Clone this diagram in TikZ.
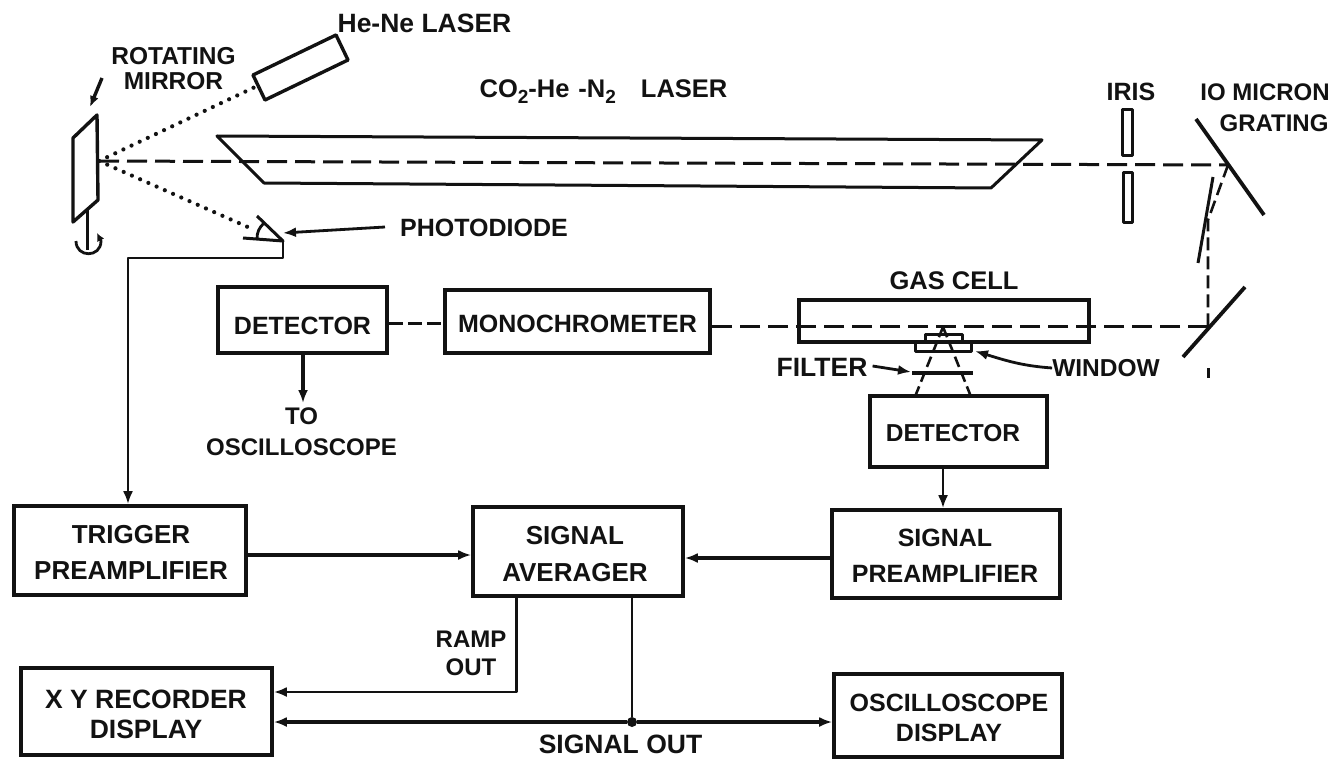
\documentclass[tikz,border=0pt]{standalone}
\usepackage{fontspec}
\setmainfont{Liberation Sans}
\usetikzlibrary{arrows.meta,calc}
\definecolor{ink}{gray}{0.07}
\tikzset{
 txt/.style 2 args={font=\fontsize{#1}{#2}\selectfont\bfseries,align=center,inner sep=0pt,text=ink},
 box/.style={draw=ink,line width=3.6pt,inner sep=0pt},
 part/.style={draw=ink,line width=3.4pt,line join=round},
 wire/.style={draw=ink,line width=2.8pt,line join=round},
 arr/.style={wire,-{Latex[length=13pt,width=10pt]}},
 thickarr/.style={arr,line width=3.2pt},
 beam/.style={draw=ink,line width=3pt,dash pattern=on 20pt off 8pt},
 thinbeam/.style={draw=ink,line width=2.6pt,dash pattern=on 13pt off 6pt},
 dots/.style={draw=ink,line width=4.2pt,line cap=round,dash pattern=on 0pt off 9pt},
}
\begin{document}
\begin{tikzpicture}[x=1pt,y=-1pt]
\useasboundingbox[fill=white] (0,0) rectangle (1337,759);
% named points
\coordinate (mc) at (99,161);
\coordinate (g1) at (1228,165);
\coordinate (g2) at (1208,326);
\coordinate (pd) at (283,241);
% boxes
\node[box,minimum width=169pt,minimum height=66pt] (det1) at (302.5,320) {};
\node[box,minimum width=265pt,minimum height=63pt] (mono) at (577.5,321.5) {};
\node[box,minimum width=290pt,minimum height=42pt] (cell) at (944,321) {};
\node[box,minimum width=177pt,minimum height=71pt] (det2) at (958.5,431.5) {};
\node[box,minimum width=232pt,minimum height=89pt] (trig) at (130,550.5) {};
\node[box,minimum width=210pt,minimum height=89pt] (avg) at (578,551.5) {};
\node[box,minimum width=228pt,minimum height=88pt] (spre) at (946,554) {};
\node[box,minimum width=251pt,minimum height=87pt] (xy) at (146.5,711.5) {};
\node[box,minimum width=228pt,minimum height=83pt] (osc) at (948,715.5) {};
% box texts
\node[txt={25}{30}] (det1t) at (302.5,326) {DETECTOR};
\node[txt={25}{30}] (monot) at (577.5,323.5) {MONOCHROMETER};
\node[txt={24.5}{30}] (det2t) at (953,433) {DETECTOR};
\node[txt={26}{36}] (trigt) at (131,552) {TRIGGER\\PREAMPLIFIER};
\node[txt={26}{37}] (avgt) at (575,554.5) {SIGNAL\\AVERAGER};
\node[txt={25}{36}] (spret) at (945,556) {SIGNAL\\PREAMPLIFIER};
\node[txt={26.5}{30}] (xyt) at (146,714) {X Y RECORDER\\DISPLAY};
\node[txt={25}{30}] (osct) at (949,718) {OSCILLOSCOPE\\DISPLAY};
% labels
\node[txt={26.5}{30}] (lhene) at (424.5,23) {He-Ne LASER};
\node[txt={24.5}{25}] (lrot) at (173.5,68.5) {ROTATING\\MIRROR};
\node[txt={25.5}{30}] (lco) at (603.5,92) {CO\raisebox{-6pt}{\fontsize{19}{19}\selectfont 2}-He\hspace{9pt}-N\raisebox{-6pt}{\fontsize{19}{19}\selectfont 2}\hspace{25pt}LASER};
\node[txt={25}{30}] (liris) at (1131,92) {IRIS};
\node[txt={24}{31}] (lgrat) at (1265,108) {IO MICRON\\\hspace*{18pt}GRATING};
\node[txt={25}{30}] (lpd) at (484,228) {PHOTODIODE};
\node[txt={25.5}{30}] (lgas) at (954,281) {GAS CELL};
\node[txt={26.5}{30}] (lfil) at (822,367) {FILTER};
\node[txt={24.5}{30}] (lwin) at (1106,368) {WINDOW};
\node[txt={24}{31}] (ltoo) at (301.5,432) {TO\\OSCILLOSCOPE};
\node[txt={24}{28}] (lramp) at (471,653) {RAMP\\OUT};
\node[txt={26.5}{30}] (lsig) at (620.5,744) {SIGNAL OUT};
% rotating mirror
\draw[part] (97,115) -- (73,138) -- (73,222) -- (98,200) -- cycle;
\draw[part,line width=3pt] (87,208) -- (87,250);
\draw[wire,-{Latex[length=8pt,width=8pt]}] (76,241) .. controls (76,258) and (101,258) .. (101,241) -- (97,233);
\draw[draw=ink,line width=3.4pt,-{Latex[length=11pt,width=9pt]}] (102,78) -- (90,107);
% He-Ne laser
\draw[part] (253,75) -- (336,35) -- (348,60) -- (265,100) -- cycle;
\coordinate (hn) at (255,87);
\draw[dots] (mc) -- (hn);
% photodiode
\coordinate (pdt) at (250,228);
\draw[dots] (mc) -- (pdt);
\draw[wire,line width=3pt] (257,216) -- (pd) -- (243,238);
\draw[wire] (257,239) .. controls (257,232) and (259,228) .. (264,223);
% laser tube
\draw[part,line width=3pt] (217,136) -- (1042,140) -- (991,188) -- (264,183) -- cycle;
% main beam
\draw[beam] (mc) -- (g1);
% iris
\draw[part,line width=3pt] (1122,110) rectangle (1132,156);
\draw[part,line width=3pt] (1123,173) rectangle (1132,223);
% grating & mirrors
\draw[part,line width=3.8pt] (1196,119) -- (1264,215);
\draw[wire,line width=3pt] (1213,177) -- (1198,263);
\draw[thinbeam] (g1) -- (1208,220) -- (g2);
\draw[part,line width=3.8pt] (1183,357) -- (1245,287);
\draw[wire,line width=3pt] (1208,368) -- (1208,378);
% beam to monochromator, detector link
\draw[beam] (g2) -- (mono.east |- g2);
\draw[beam,dash pattern=on 14pt off 5pt] (det1.east |- 0,323) -- (mono.west |- 0,323);
% window and filter
\draw[part,line width=3pt] (915,342) -- (915,351) -- (971,351) -- (971,342) -- (962,342) -- (962,334) -- (925,334) -- (925,342) -- cycle;
\draw[part] (912,373) -- (973,373);
\coordinate (apex) at (943,327);
\draw[thinbeam,dash pattern=on 11pt off 5pt] (apex) -- (det2.north -| 916,0);
\draw[thinbeam,dash pattern=on 11pt off 5pt] (apex) -- (det2.north -| 970,0);
\draw[arr] (lfil.east) ++(5,-1) -- (911,372);
\draw[arr] (lwin.west) .. controls (1025,366) and (1010,362) .. (975,351);
\draw[arr] (385,227) -- (pd |- 0,233);
\draw[arr] (pd) -- (283,258) -- (128,258) -- (trig.north -| 128,0);
% signal paths
\draw[thickarr] (det1.south -| 303,0) -- (303,403);
\draw[arr] (det2.south -| 943,0) -- (spre.north -| 943,0);
\draw[thickarr] (trig.east |- 0,555) -- (avg.west |- 0,555);
\draw[thickarr] (spre.west |- 0,558) -- (avg.east |- 0,558);
\draw[arr] (avg.south -| 516.5,0) -- (516.5,692) -- (xy.east |- 0,692);
\node[circle,fill=ink,inner sep=0pt,minimum size=10pt] (jn) at (632,722) {};
\draw[wire] (avg.south -| 632,0) -- (jn);
\draw[thickarr] (jn) -- (xy.east |- jn);
\draw[thickarr] (jn) -- (osc.west |- jn);
\end{tikzpicture}
\end{document}
